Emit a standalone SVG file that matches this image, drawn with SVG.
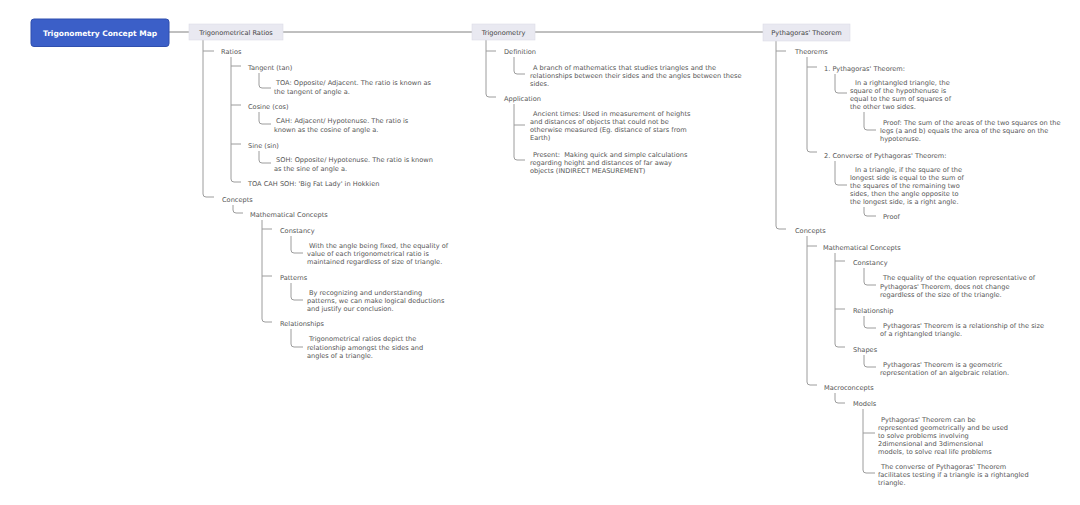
<svg xmlns="http://www.w3.org/2000/svg" width="1080" height="505" viewBox="0 0 1080 505">
<style>
.t{font-family:"DejaVu Sans",Verdana,sans-serif;font-size:6.6px;fill:#555}
.c{fill:none;stroke:#9c9c9c;stroke-width:1}
.m{fill:none;stroke:#808080;stroke-width:1}
.b{fill:#e9e9f1;stroke:#dcdce6;stroke-width:0.6}
.bt{font-family:"DejaVu Sans",Verdana,sans-serif;font-size:6.6px;fill:#444;text-anchor:middle}
</style>
<rect width="1080" height="505" fill="#ffffff"/>
<g id="connectors">
<path class="m" d="M169,32 H763"/>
<path class="c" d="M203,40 V194 Q203,197 206,197 H214 M203,51 H214"/>
<path class="c" d="M231,57 V179 Q231,182 234,182 H241 M231,66 H241 M231,105 H241 M231,144 H241"/>
<path class="c" d="M259,73 V85 Q259,88 262,88 H271"/>
<path class="c" d="M259,112 V121 Q259,124 262,124 H271"/>
<path class="c" d="M259,151 V160 Q259,163 262,163 H271"/>
<path class="c" d="M233,205 V210 Q233,213 236,213 H243"/>
<path class="c" d="M262,220 V319 Q262,322 265,322 H272 M262,229 H272 M262,276 H272"/>
<path class="c" d="M291,236 V250 Q291,253 294,253 H303"/>
<path class="c" d="M291,283 V297 Q291,300 294,300 H303"/>
<path class="c" d="M291,329 V344 Q291,347 294,347 H303"/>
<path class="c" d="M486,40 V94 Q486,97 489,97 H496 M486,51 H496"/>
<path class="c" d="M514,57 V71 Q514,74 517,74 H525"/>
<path class="c" d="M514,104 V157 Q514,160 517,160 H525 M514,125 H525"/>
<path class="c" d="M776,41 V226 Q776,229 779,229 H786 M776,51 H786"/>
<path class="c" d="M807,57 V149 Q807,152 810,152 H817 M807,67 H817"/>
<path class="c" d="M835,74 V90 Q835,93 838,93 H847"/>
<path class="c" d="M864,112 V127 Q864,130 867,130 H876"/>
<path class="c" d="M835,161 V182 Q835,185 838,185 H847"/>
<path class="c" d="M864,207 V213 Q864,216 867,216 H876"/>
<path class="c" d="M807,236 V382 Q807,385 810,385 H817 M807,246 H817"/>
<path class="c" d="M835,253 V344 Q835,347 838,347 H845 M835,261 H845 M835,309 H845"/>
<path class="c" d="M864,268 V282 Q864,285 867,285 H876"/>
<path class="c" d="M864,316 V325 Q864,328 867,328 H876"/>
<path class="c" d="M864,355 V364 Q864,367 867,367 H876"/>
<path class="c" d="M835,393 V400 Q835,403 838,403 H845"/>
<path class="c" d="M863,409 V470 Q863,473 866,473 H875 M863,433 H875"/>
</g>
<g id="title">
<rect x="31" y="19" width="138" height="27.5" rx="3" fill="#3b5fc8" stroke="#2f4fae" stroke-width="1"/>
<text x="100" y="35.5" font-family="DejaVu Sans,Verdana,sans-serif" font-size="7.5" font-weight="bold" fill="#ffffff" text-anchor="middle">Trigonometry Concept Map</text>
</g>
<g id="trig-ratios">
<rect class="b" x="189" y="24" width="94" height="16"/>
<text class="bt" x="236" y="34.5">Trigonometrical Ratios</text>
</g>
<g id="ratios"><text class="t" x="221" y="54.4">Ratios</text></g>
<g id="tangent"><text class="t" x="248" y="70.4">Tangent (tan)</text></g>
<g id="tangent-desc"><text class="t" y="85.4"><tspan x="276">TOA: Opposite/ Adjacent. The ratio is known as</tspan><tspan x="274" dy="8.6">the tangent of angle a.</tspan></text></g>
<g id="cosine"><text class="t" x="248" y="109.4">Cosine (cos)</text></g>
<g id="cosine-desc"><text class="t" y="123.4"><tspan x="276">CAH: Adjacent/ Hypotenuse. The ratio is</tspan><tspan x="274" dy="8.6">known as the cosine of angle a.</tspan></text></g>
<g id="sine"><text class="t" x="248" y="148.4">Sine (sin)</text></g>
<g id="sine-desc"><text class="t" y="162.4"><tspan x="276">SOH: Opposite/ Hypotenuse. The ratio is known</tspan><tspan x="274" dy="8.6">as the sine of angle a.</tspan></text></g>
<g id="toacahsoh"><text class="t" x="248" y="186.4">TOA CAH SOH: 'Big Fat Lady' in Hokkien</text></g>
<g id="concepts-l"><text class="t" x="222" y="202.4">Concepts</text></g>
<g id="math-concepts-l"><text class="t" x="250" y="217.4">Mathematical Concepts</text></g>
<g id="constancy-l"><text class="t" x="280" y="233.4">Constancy</text></g>
<g id="constancy-l-desc"><text class="t" y="248.4"><tspan x="309">With the angle being fixed, the equality of</tspan><tspan x="307" dy="7.6">value of each trigonometrical ratio is</tspan><tspan x="307" dy="7.8">maintained regardless of size of triangle.</tspan></text></g>
<g id="patterns"><text class="t" x="280" y="280.4">Patterns</text></g>
<g id="patterns-desc"><text class="t" y="295.4"><tspan x="309">By recognizing and understanding</tspan><tspan x="307" dy="8">patterns, we can make logical deductions</tspan><tspan x="307" dy="8">and justify our conclusion.</tspan></text></g>
<g id="relationships"><text class="t" x="280" y="326.4">Relationships</text></g>
<g id="relationships-desc"><text class="t" y="341.4"><tspan x="309">Trigonometrical ratios depict the</tspan><tspan x="307" dy="8.2">relationship amongst the sides and</tspan><tspan x="307" dy="8.2">angles of a triangle.</tspan></text></g>
<g id="trigonometry">
<rect class="b" x="472" y="24" width="63" height="16"/>
<text class="bt" x="503.5" y="34.5">Trigonometry</text>
</g>
<g id="definition"><text class="t" x="504" y="54.4">Definition</text></g>
<g id="definition-desc"><text class="t" y="70.4"><tspan x="533">A branch of mathematics that studies triangles and the</tspan><tspan x="530" dy="8">relationships between their sides and the angles between these</tspan><tspan x="530" dy="8">sides.</tspan></text></g>
<g id="application"><text class="t" x="504" y="101.4">Application</text></g>
<g id="ancient"><text class="t" y="116.4"><tspan x="533">Ancient times: Used in measurement of heights</tspan><tspan x="530" dy="8">and distances of objects that could not be</tspan><tspan x="530" dy="8">otherwise measured (Eg. distance of stars from</tspan><tspan x="530" dy="8">Earth)</tspan></text></g>
<g id="present"><text class="t" y="157.4" xml:space="preserve"><tspan x="533">Present:  Making quick and simple calculations</tspan><tspan x="530" dy="8">regarding height and distances of far away</tspan><tspan x="530" dy="8">objects (INDIRECT MEASUREMENT)</tspan></text></g>
<g id="pythagoras">
<rect class="b" x="763" y="24" width="87" height="17"/>
<text class="bt" x="806.5" y="35">Pythagoras' Theorem</text>
</g>
<g id="theorems"><text class="t" x="795" y="54.4">Theorems</text></g>
<g id="pt1"><text class="t" x="824" y="71.4">1. Pythagoras' Theorem:</text></g>
<g id="pt1-desc"><text class="t" y="85.4"><tspan x="855">In a rightangled triangle, the</tspan><tspan x="850" dy="8">square of the hypothenuse is</tspan><tspan x="850" dy="8">equal to the sum of squares of</tspan><tspan x="850" dy="8">the other two sides.</tspan></text></g>
<g id="pt1-proof"><text class="t" y="125.4"><tspan x="883">Proof: The sum of the areas of the two squares on the</tspan><tspan x="880" dy="8">legs (a and b) equals the area of the square on the</tspan><tspan x="880" dy="8">hypotenuse.</tspan></text></g>
<g id="pt2"><text class="t" x="824" y="158.4">2. Converse of Pythagoras' Theorem:</text></g>
<g id="pt2-desc"><text class="t" y="172.4"><tspan x="855">In a triangle, if the square of the</tspan><tspan x="850" dy="8">longest side is equal to the sum of</tspan><tspan x="850" dy="8">the squares of the remaining two</tspan><tspan x="850" dy="8">sides, then the angle opposite to</tspan><tspan x="850" dy="8">the longest side, is a right angle.</tspan></text></g>
<g id="pt2-proof"><text class="t" x="883" y="219.4">Proof</text></g>
<g id="concepts-r"><text class="t" x="795" y="233.4">Concepts</text></g>
<g id="math-concepts-r"><text class="t" x="823" y="250.4">Mathematical Concepts</text></g>
<g id="constancy-r"><text class="t" x="853" y="265.4">Constancy</text></g>
<g id="constancy-r-desc"><text class="t" y="280.4"><tspan x="883">The equality of the equation representative of</tspan><tspan x="880" dy="8.5">Pythagoras' Theorem, does not change</tspan><tspan x="880" dy="8">regardless of the size of the triangle.</tspan></text></g>
<g id="relationship-r"><text class="t" x="853" y="313.4">Relationship</text></g>
<g id="relationship-r-desc"><text class="t" y="328.4"><tspan x="883">Pythagoras' Theorem is a relationship of the size</tspan><tspan x="880" dy="8">of a rightangled triangle.</tspan></text></g>
<g id="shapes"><text class="t" x="853" y="352.4">Shapes</text></g>
<g id="shapes-desc"><text class="t" y="367.4"><tspan x="883">Pythagoras' Theorem is a geometric</tspan><tspan x="880" dy="8">representation of an algebraic relation.</tspan></text></g>
<g id="macroconcepts"><text class="t" x="824" y="390.4">Macroconcepts</text></g>
<g id="models"><text class="t" x="853" y="406.4">Models</text></g>
<g id="models-desc1"><text class="t" y="422.4"><tspan x="881">Pythagoras' Theorem can be</tspan><tspan x="878" dy="8">represented geometrically and be used</tspan><tspan x="878" dy="8">to solve problems involving</tspan><tspan x="878" dy="7.5">2dimensional and 3dimensional</tspan><tspan x="878" dy="8.5">models, to solve real life problems</tspan></text></g>
<g id="models-desc2"><text class="t" y="469.4"><tspan x="881">The converse of Pythagoras' Theorem</tspan><tspan x="878" dy="8">facilitates testing if a triangle is a rightangled</tspan><tspan x="878" dy="8">triangle.</tspan></text></g>
</svg>
